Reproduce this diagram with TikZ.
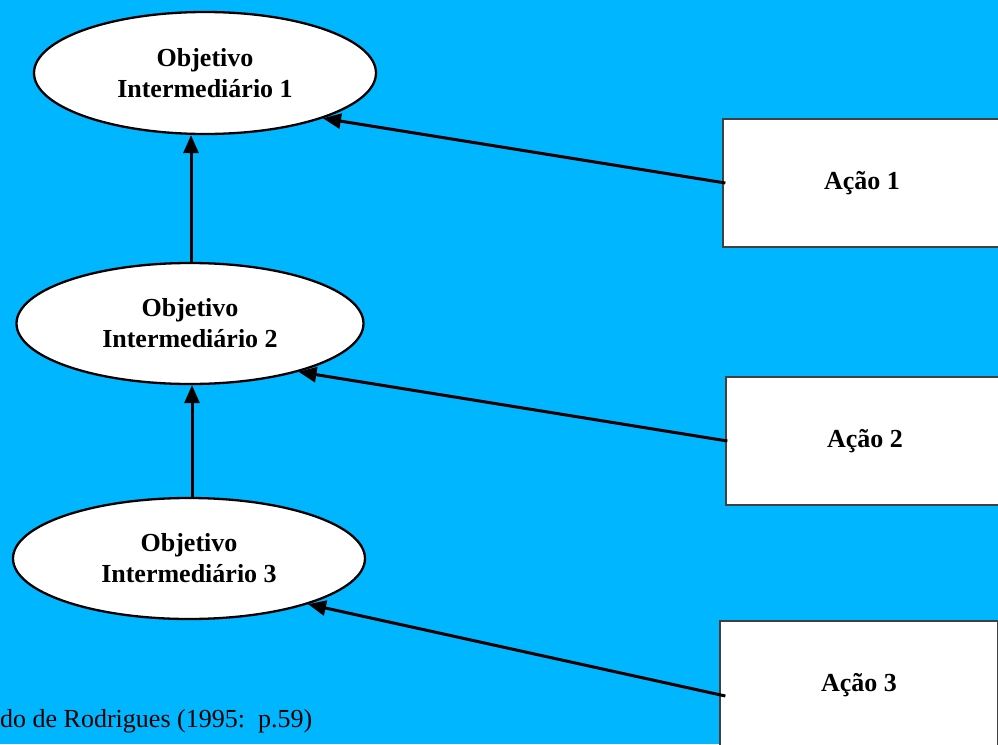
\documentclass[tikz,border=0pt]{standalone}
\usepackage{fontspec}
\setmainfont{Liberation Serif}
\usetikzlibrary{shapes.geometric,arrows.meta,calc}
\definecolor{bg}{RGB}{0,182,255}
\begin{document}
\begin{tikzpicture}[x=1pt,y=-1pt,
  objetivo/.style={ellipse, draw=black, line width=2.3pt, fill=white, inner sep=0pt,
    align=center, font=\fontsize{26}{31}\selectfont\bfseries},
  acao/.style={rectangle, draw=black!75, line width=1.3pt, fill=white, inner sep=0pt,
    minimum width=278pt, minimum height=128pt, font=\fontsize{26}{31}\selectfont\bfseries},
  seta/.style={line width=3pt, -{Triangle[length=18pt,width=15pt]}}
]
\path[use as bounding box, fill=bg] (0,0) rectangle (998,744);
\clip (0,0) rectangle (998,744);

\node[objetivo, minimum width=342pt, minimum height=122pt] (o1) at (205,73) {Objetivo\\Intermediário 1};
\node[objetivo, minimum width=347pt, minimum height=121pt] (o2) at (190,323.5) {Objetivo\\Intermediário 2};
\node[objetivo, minimum width=352pt, minimum height=121pt] (o3) at (189,558.5) {Objetivo\\Intermediário 3};

\node[acao] (a1) at (862,183) {Ação 1};
\node[acao] (a2) at (865,441) {Ação 2};
\node[acao] (a3) at (859,685) {Ação 3};

\draw[seta] ([xshift=1pt]o2.north) -- ([xshift=1pt]o2.north |- o1.south);
\draw[seta] ([xshift=3pt]o3.north) -- ([xshift=3pt]o3.north |- o2.south);

\draw[seta] ([xshift=3pt]a1.west) -- (o1.-21);
\draw[seta] ([xshift=2pt]a2.west) -- (o2.-24.5);
\draw[seta] ([xshift=6pt,yshift=-11pt]a3.west) -- (o3.-21.5);

\node[anchor=base west, inner sep=0pt, font=\fontsize{26}{31}\selectfont] (fonte) at (0,727) {do de Rodrigues (1995:\ \ p.59)};
\end{tikzpicture}
\end{document}
